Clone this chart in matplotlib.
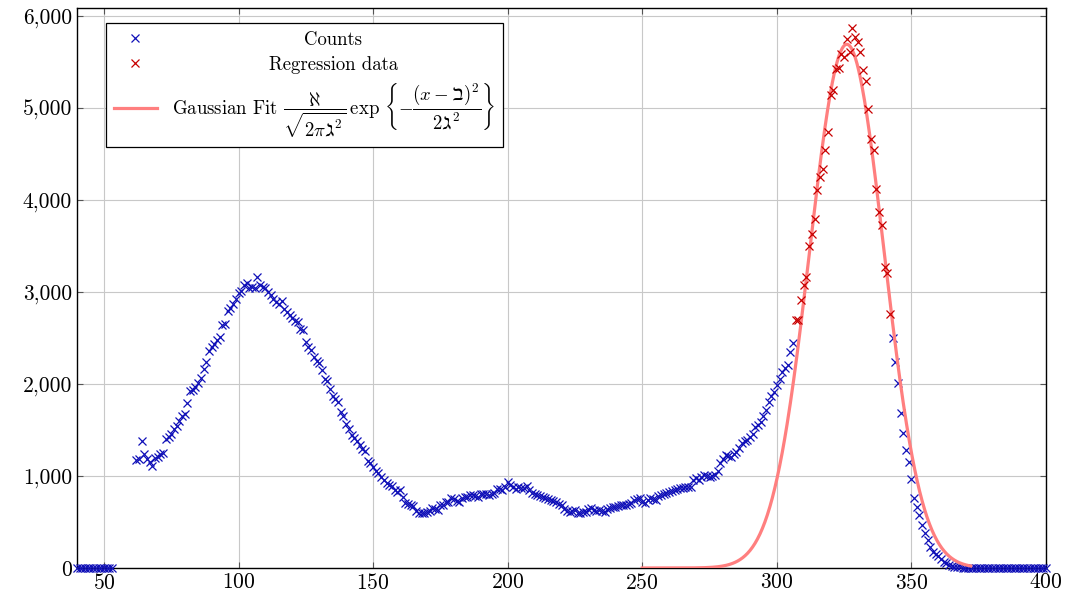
import matplotlib
matplotlib.use("Agg")
import matplotlib.pyplot as plt
import numpy as np
from matplotlib.ticker import FuncFormatter
from matplotlib.transforms import Bbox

# channels 40..53 are empty, 54..61 are missing in the data
low_channels = list(range(40, 54))
low_counts = [0] * 14

# blue counts, channel 62 to 306
counts_start = 62
counts = [
    1170, 1180, 1380, 1240, 1190, 1150, 1110, 1200, 1210, 1240,
    1250, 1400, 1420, 1460, 1510, 1540, 1600, 1650, 1680, 1790,
    1930, 1940, 1970, 2010, 2070, 2160, 2240, 2360, 2400, 2440,
    2480, 2510, 2640, 2650, 2800, 2830, 2870, 2920, 2990, 3010,
    3080, 3100, 3040, 3060, 3050, 3170, 3080, 3060, 3050, 3000,
    2970, 2920, 2890, 2870, 2900, 2820, 2780, 2750, 2720, 2690,
    2680, 2600, 2590, 2460, 2400, 2370, 2300, 2250, 2230, 2150,
    2050, 2030, 1950, 1870, 1840, 1800, 1700, 1650, 1570, 1510,
    1450, 1410, 1380, 1340, 1290, 1270, 1160, 1140, 1100, 1060,
    1030, 990, 960, 920, 900, 890, 850, 830, 850, 770,
    710, 700, 680, 670, 620, 600, 595, 600, 610, 620,
    650, 640, 630, 680, 690, 720, 720, 760, 750, 730,
    720, 760, 770, 775, 790, 795, 780, 775, 800, 810,
    800, 795, 810, 815, 860, 860, 850, 880, 940, 900,
    885, 860, 880, 870, 865, 890, 850, 815, 800, 795,
    780, 770, 760, 750, 740, 730, 720, 700, 690, 640,
    615, 610, 620, 630, 600, 595, 605, 612, 640, 650,
    630, 625, 630, 625, 612, 640, 650, 660, 667, 675,
    685, 690, 685, 700, 710, 740, 745, 757, 720, 703,
    740, 757, 745, 739, 780, 793, 800, 812, 830, 835,
    848, 860, 866, 870, 884, 880, 884, 960, 975, 957,
    990, 1011, 1000, 993, 1000, 1011, 1060, 1138, 1180, 1228,
    1215, 1210, 1240, 1264, 1310, 1355, 1380, 1391, 1430, 1460,
    1536, 1560, 1591, 1650, 1717, 1800, 1870, 1917, 1989, 2050,
    2134, 2180, 2207, 2351, 2442,
]

# red points used for the fit, channel 307 to 342
regression_start = 307
regression = [
    2700, 2700, 2913, 3076, 3167, 3500, 3630, 3790, 4116, 4253,
    4344, 4551, 4743, 5141, 5196, 5431, 5440, 5594, 5558, 5757,
    5612, 5877, 5776, 5721, 5612, 5420, 5293, 4996, 4660, 4543,
    4127, 3873, 3728, 3275, 3203, 2761,
]

# blue counts again, channel 343 to 400
tail_start = 343
tail = [
    2497, 2243, 2007, 1689, 1471, 1283, 1156, 967, 757, 666,
    576, 467, 377, 304, 232, 177, 150, 130, 94, 69,
    50, 35, 20, 15, 10, 8, 5, 3,
] + [0] * 30

# fit parameters (aleph, beth, gimel) and range of the fit curve
fit_aleph = 197000.0
fit_beth = 326.0
fit_gimel = 13.8
fit_range = (250, 372)


def gauss(x, a, b, c):
    return a / np.sqrt(2 * np.pi * c ** 2) * np.exp(-(x - b) ** 2 / (2 * c ** 2))


plt.rcParams['font.family'] = ['cmr10', 'DejaVu Serif']
plt.rcParams['mathtext.fontset'] = 'cm'
plt.rcParams['axes.unicode_minus'] = False
plt.rcParams['axes.formatter.use_mathtext'] = True

fig = plt.figure(figsize=(10.69, 6.04), dpi=100)
ax = fig.add_axes([77 / 1069, 1 - 568 / 604, 969 / 1069, 560 / 604])

blue = '#1010b8'
red = '#c80000'

cx = low_channels + list(range(counts_start, counts_start + len(counts))) \
    + list(range(tail_start, tail_start + len(tail)))
cy = low_counts + counts + tail
rx = list(range(regression_start, regression_start + len(regression)))

ax.plot(cx, cy, linestyle='none', marker='x', color=blue, markersize=5.5,
        markeredgewidth=0.9, clip_on=False, zorder=3, label='Counts')
ax.plot(rx, regression, linestyle='none', marker='x', color=red, markersize=5.5,
        markeredgewidth=0.9, clip_on=False, zorder=4, label='Regression data')

xf = np.linspace(fit_range[0], fit_range[1], 400)
ax.plot(xf, gauss(xf, fit_aleph, fit_beth, fit_gimel), color='#ff7f7f', lw=2.3,
        zorder=3.5,
        label=r'Gaussian Fit $\dfrac{\aleph}{\sqrt{2\pi\gimel^2}}\,\exp\,\left\{-\dfrac{(x-\beth)^2}{2\gimel^2}\right\}$')

ax.set_xlim(40, 400)
ax.set_ylim(0, 6090)
ax.set_xticks(range(50, 401, 50))
ax.set_yticks(range(0, 6001, 1000))
ax.yaxis.set_major_formatter(FuncFormatter(lambda v, p: f'{v:,.0f}'))
ax.grid(True, color='#c8c8c8', linewidth=0.8)
ax.set_axisbelow(True)
ax.tick_params(direction='in', length=4, width=0.8, top=True, right=True,
               labelsize=15.5, color='#555555')
for s in ax.spines.values():
    s.set_linewidth(1.0)
    s.set_color('black')

leg = ax.legend(loc='upper left', bbox_to_anchor=(0.03, 0.973), borderaxespad=0,
                fontsize=13.5, fancybox=False, framealpha=1, edgecolor='black',
                handlelength=2.3, numpoints=1, labelspacing=0.4, borderpad=0.4)
leg.get_frame().set_linewidth(0.9)

# centre the legend texts like pgfplots does
areas = []
for col in leg._legend_handle_box.get_children():
    for row in col.get_children():
        areas.append(row.get_children()[1])
orig = [a.get_bbox for a in areas]


def centred(i):
    def get_bbox(renderer):
        w = max(g(renderer).width for g in orig)
        b = orig[i](renderer)
        return Bbox.from_bounds(-w / 2, b.y0, w, b.height)
    return get_bbox


for i, a in enumerate(areas):
    a._text.set_horizontalalignment('center')
    a.get_bbox = centred(i)

fig.savefig('out.png', dpi=100)
